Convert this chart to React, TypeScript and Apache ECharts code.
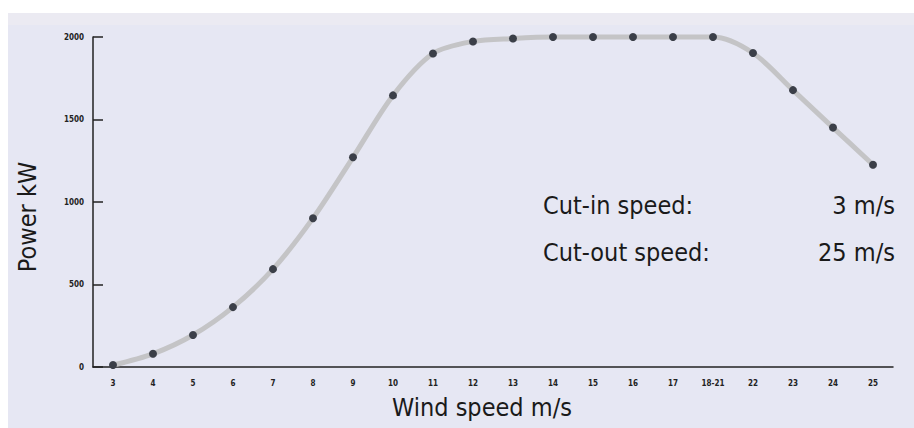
import React, { useEffect, useRef } from "react";
import * as echarts from "echarts";

const windSpeeds = ["3", "4", "5", "6", "7", "8", "9", "10", "11", "12", "13", "14", "15", "16", "17", "18-21", "22", "23", "24", "25"];
const powerKW = [12, 80, 194, 363, 593, 902, 1271, 1646, 1900, 1973, 1991, 2000, 2000, 2000, 2000, 2000, 1903, 1678, 1451, 1226];
const yTicks = { min: 0, max: 2000, interval: 500 };
const notes = [
  { label: "Cut-in speed:", value: "3 m/s" },
  { label: "Cut-out speed:", value: "25 m/s" },
];

const FONT = "'DejaVu Sans Condensed', 'DejaVu Sans', sans-serif";

export default function App() {
  const ref = useRef<HTMLDivElement>(null);
  useEffect(() => {
    if (!ref.current) return;
    const chart = echarts.init(ref.current, null, { renderer: "svg" });
    const noteY = [205, 252];
    chart.setOption({
      animation: false,
      backgroundColor: "#ffffff",
      textStyle: { fontFamily: FONT },
      graphic: [
        { type: "rect", z: -10, shape: { x: 8, y: 13, width: 906, height: 415 }, style: { fill: "#e6e7f3" } },
        { type: "rect", z: -9, shape: { x: 8, y: 13, width: 906, height: 12 }, style: { fill: "#ebeaf2" } },
        ...notes.flatMap((n, i) => [
          { type: "text", x: 543, y: noteY[i], style: { text: n.label, fill: "#1a1a1a", font: `25px ${FONT}`, textVerticalAlign: "middle", textAlign: "left" } },
          { type: "text", x: 895, y: noteY[i], style: { text: n.value, fill: "#1a1a1a", font: `25px ${FONT}`, textVerticalAlign: "middle", textAlign: "right" } },
        ]),
      ],
      grid: { left: 93, right: 21, top: 37, bottom: 61, containLabel: false },
      xAxis: {
        type: "category",
        data: windSpeeds,
        boundaryGap: true,
        name: "Wind speed m/s",
        nameLocation: "middle",
        nameGap: 28,
        nameTextStyle: { fontSize: 25, color: "#1a1a1a", fontFamily: FONT, padding: [0, 22, 0, 0] },
        axisLine: { lineStyle: { color: "#222", width: 1.5 } },
        axisTick: { inside: true, length: 5, interval: 0, lineStyle: { color: "#222", width: 1.5 } },
        axisLabel: { interval: 0, fontSize: 8, color: "#222", margin: 12, fontFamily: FONT, fontWeight: "bold" },
        splitLine: { show: false },
      },
      yAxis: {
        type: "value",
        min: yTicks.min,
        max: yTicks.max,
        interval: yTicks.interval,
        name: "Power kW",
        nameLocation: "middle",
        nameGap: 53,
        nameTextStyle: { fontSize: 25, color: "#1a1a1a", fontFamily: FONT, padding: [0, 30, 0, 0] },
        axisLine: { show: true, lineStyle: { color: "#222", width: 1.5 } },
        axisTick: { show: true, inside: true, length: 10, lineStyle: { color: "#222", width: 1.5 } },
        axisLabel: { fontSize: 8, color: "#222", margin: 9, fontFamily: FONT, fontWeight: "bold", formatter: (v: number) => String(v) },
        splitLine: { show: false },
      },
      series: [
        {
          type: "line",
          data: powerKW,
          smooth: 0.3,
          symbol: "circle",
          symbolSize: 8,
          itemStyle: { color: "#3b3f48" },
          lineStyle: { color: "#c4c4c6", width: 5 },
          clip: false,
        },
      ],
    });
    return () => chart.dispose();
  }, []);
  return <div ref={ref} style={{ position: "absolute", left: 0, top: 0, width: 914, height: 428 }} />;
}
